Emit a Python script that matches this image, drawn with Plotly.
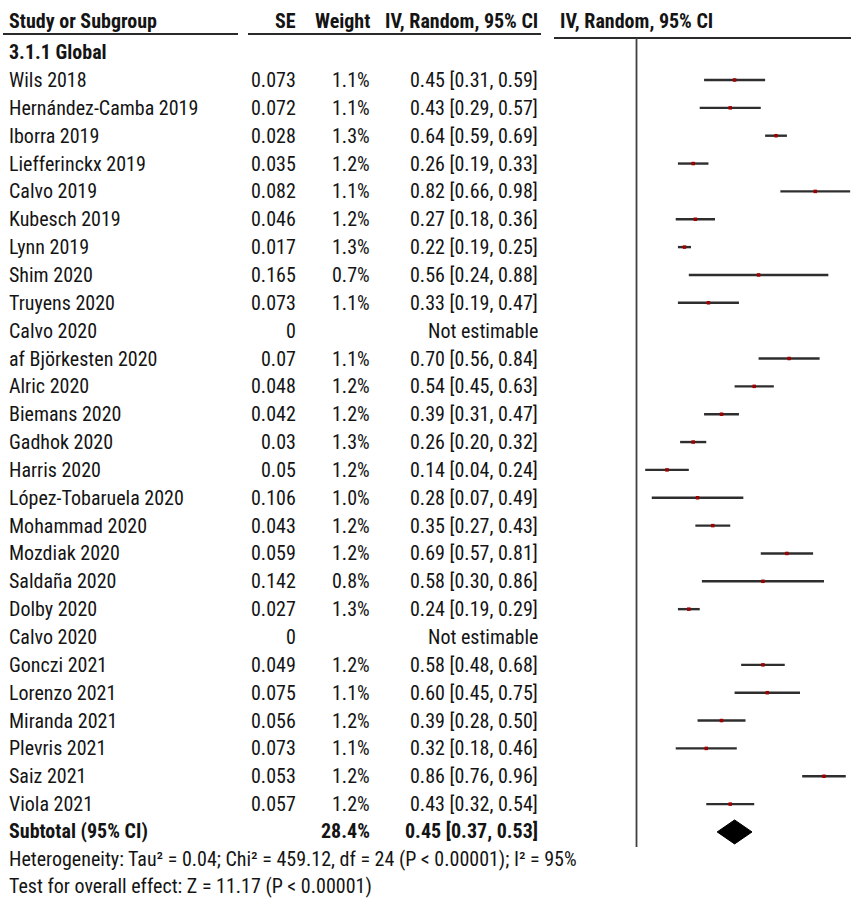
import plotly.graph_objects as go

# Forest plot: IV, random-effects pooled proportions (subgroup 3.1.1 Global)
studies = [
    "Wils 2018", "Hernández-Camba 2019", "Iborra 2019", "Liefferinckx 2019",
    "Calvo 2019", "Kubesch 2019", "Lynn 2019", "Shim 2020", "Truyens 2020",
    "Calvo 2020", "af Björkesten 2020", "Alric 2020", "Biemans 2020",
    "Gadhok 2020", "Harris 2020", "López-Tobaruela 2020", "Mohammad 2020",
    "Mozdiak 2020", "Saldaña 2020", "Dolby 2020", "Calvo 2020", "Gonczi 2021",
    "Lorenzo 2021", "Miranda 2021", "Plevris 2021", "Saiz 2021", "Viola 2021",
]
se = [0.073, 0.072, 0.028, 0.035, 0.082, 0.046, 0.017, 0.165, 0.073, 0,
      0.07, 0.048, 0.042, 0.03, 0.05, 0.106, 0.043, 0.059, 0.142, 0.027, 0,
      0.049, 0.075, 0.056, 0.073, 0.053, 0.057]
weight = [1.1, 1.1, 1.3, 1.2, 1.1, 1.2, 1.3, 0.7, 1.1, None,
          1.1, 1.2, 1.2, 1.3, 1.2, 1.0, 1.2, 1.2, 0.8, 1.3, None,
          1.2, 1.1, 1.2, 1.1, 1.2, 1.2]
est = [0.45, 0.43, 0.64, 0.26, 0.82, 0.27, 0.22, 0.56, 0.33, None,
       0.70, 0.54, 0.39, 0.26, 0.14, 0.28, 0.35, 0.69, 0.58, 0.24, None,
       0.58, 0.60, 0.39, 0.32, 0.86, 0.43]
ci_lo = [0.31, 0.29, 0.59, 0.19, 0.66, 0.18, 0.19, 0.24, 0.19, None,
         0.56, 0.45, 0.31, 0.20, 0.04, 0.07, 0.27, 0.57, 0.30, 0.19, None,
         0.48, 0.45, 0.28, 0.18, 0.76, 0.32]
ci_hi = [0.59, 0.57, 0.69, 0.33, 0.98, 0.36, 0.25, 0.88, 0.47, None,
         0.84, 0.63, 0.47, 0.32, 0.24, 0.49, 0.43, 0.81, 0.86, 0.29, None,
         0.68, 0.75, 0.50, 0.46, 0.96, 0.54]

subtotal_weight = 28.4
subtotal_est, subtotal_lo, subtotal_hi = 0.45, 0.37, 0.53

headers = ["Study or Subgroup", "SE", "Weight", "IV, Random, 95% CI", "IV, Random, 95% CI"]
subgroup = "3.1.1 Global"
heterogeneity = "Heterogeneity: Tau² = 0.04; Chi² = 459.12, df = 24 (P < 0.00001); I² = 95%"
overall = "Test for overall effect: Z = 11.17 (P < 0.00001)"

# ---- layout geometry (pixels) ----
W, H = 851, 900
FONT = "Liberation Sans Narrow, Arial Narrow, Roboto Condensed, Liberation Sans, Arial, sans-serif"
TXT = "#141414"
FS = 20
ROW0, STEP = 80, 27.85


def row_y(i):
    return ROW0 + STEP * i


def px(x):
    return x / W


X_STUDY, X_SE, X_WT, X_CI = 7, 298, 372, 540
FOREST_L, ZERO_PX, SCALE = 554, 636.5, 218.0

fig = go.Figure()

# confidence intervals and point estimates
idx = [i for i, e in enumerate(est) if e is not None]
fig.add_trace(go.Scatter(
    x=[est[i] for i in idx],
    y=[row_y(i) for i in idx],
    mode="markers",
    marker=dict(symbol="square", size=3.5, color="#a00000"),
    error_x=dict(
        type="data", symmetric=False,
        array=[ci_hi[i] - est[i] for i in idx],
        arrayminus=[est[i] - ci_lo[i] for i in idx],
        width=0, thickness=2.4, color="#2e2e2e",
    ),
    hoverinfo="skip", showlegend=False, cliponaxis=True,
))

# pooled estimate diamond
ys = row_y(len(studies))
fig.add_trace(go.Scatter(
    x=[subtotal_lo, subtotal_est, subtotal_hi, subtotal_est, subtotal_lo],
    y=[ys, ys - 12, ys, ys + 12, ys],
    mode="lines", fill="toself", fillcolor="black",
    line=dict(color="black", width=1),
    hoverinfo="skip", showlegend=False,
))

ann = []


def text(x, y, s, anchor="left", bold=False):
    ann.append(dict(
        x=px(x), y=y, xref="paper", yref="y", text=f"<b>{s}</b>" if bold else s,
        xanchor=anchor, yanchor="middle", showarrow=False,
        font=dict(family=FONT, size=FS, color=TXT),
    ))


# column headers
hy = 21
text(X_STUDY, hy, headers[0], bold=True)
text(X_SE, hy, headers[1], anchor="right", bold=True)
text(X_WT, hy, headers[2], anchor="right", bold=True)
text(X_CI, hy, headers[3], anchor="right", bold=True)
text(558, hy, headers[4], bold=True)
text(X_STUDY, row_y(-1), subgroup, bold=True)

for i, name in enumerate(studies):
    y = row_y(i)
    text(X_STUDY, y, name)
    text(X_SE, y, f"{se[i]:g}", anchor="right")
    if weight[i] is not None:
        text(X_WT, y, f"{weight[i]:.1f}%", anchor="right")
    if est[i] is None:
        text(X_CI, y, "Not estimable", anchor="right")
    else:
        text(X_CI, y, f"{est[i]:.2f} [{ci_lo[i]:.2f}, {ci_hi[i]:.2f}]", anchor="right")

text(X_STUDY, ys - 1, "Subtotal (95% CI)", bold=True)
text(X_WT, ys - 1, f"{subtotal_weight:.1f}%", anchor="right", bold=True)
text(X_CI, ys - 1, f"{subtotal_est:.2f} [{subtotal_lo:.2f}, {subtotal_hi:.2f}]", anchor="right", bold=True)
text(X_STUDY, ys + 27, heterogeneity)
text(X_STUDY, ys + 54, overall)

line = dict(color="#2a2a2a", width=2)
shapes = [
    dict(type="line", xref="paper", yref="y", x0=px(3), x1=px(238), y0=34, y1=34, line=line),
    dict(type="line", xref="paper", yref="y", x0=px(248), x1=px(541), y0=34, y1=34, line=line),
    dict(type="line", xref="paper", yref="y", x0=px(FOREST_L), x1=1, y0=38, y1=38, line=line),
    dict(type="line", xref="x", yref="y", x0=0, x1=0, y0=38, y1=847,
         line=dict(color="#404040", width=1.8)),
]

x_min = (FOREST_L - ZERO_PX) / SCALE
x_max = (W - ZERO_PX) / SCALE
fig.update_layout(
    width=W, height=H, margin=dict(l=0, r=0, t=0, b=0),
    paper_bgcolor="white", plot_bgcolor="white",
    xaxis=dict(domain=[px(FOREST_L), 1], range=[x_min, x_max], visible=False, fixedrange=True),
    yaxis=dict(domain=[0, 1], range=[H, 0], visible=False, fixedrange=True),
    annotations=ann, shapes=shapes,
)

fig.write_html("out.html")
